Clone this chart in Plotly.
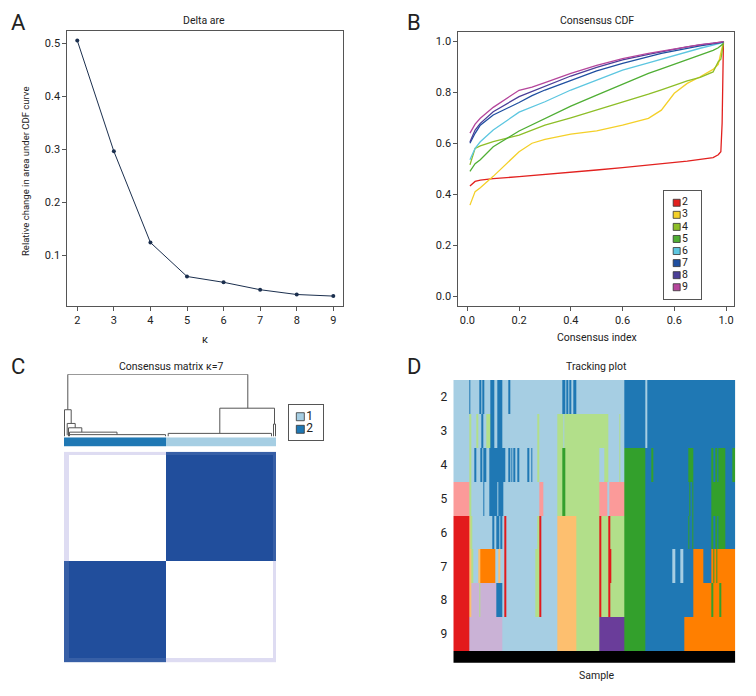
import numpy as np
import plotly.graph_objects as go

# page body has an 8px margin: size the figure to fit inside and shift coordinates
OFF = 8
FW, FH = 740, 680
def px(x): return (x - OFF) / FW
def py(y): return 1 - (y - OFF) / FH

FONT = "Roboto, Liberation Sans Narrow, sans-serif"
TXT = "#222222"
FRAME = "#555555"

# ---------------- Panel A : delta area ----------------
k_values = [2, 3, 4, 5, 6, 7, 8, 9]
delta_area = [0.505, 0.296, 0.124, 0.060, 0.049, 0.035, 0.026, 0.023]

# ---------------- Panel B : consensus CDF ----------------
cdf_x = [0.01, 0.03, 0.05, 0.1, 0.2, 0.25, 0.3, 0.4, 0.5, 0.6, 0.7, 0.75,
         0.8, 0.85, 0.9, 0.95, 0.97, 0.98, 0.985, 0.99]
cdf_k2 = [0.432, 0.450, 0.455, 0.461, 0.469, 0.473, 0.477, 0.486, 0.495, 0.504, 0.514, 0.519,
          0.524, 0.530, 0.537, 0.544, 0.555, 0.567, 0.680, 1.000]
cdf_k3 = [0.357, 0.410, 0.425, 0.470, 0.567, 0.600, 0.615, 0.636, 0.649, 0.671, 0.698, 0.730,
          0.796, 0.835, 0.861, 0.890, 0.910, 0.950, 0.970, 1.000]
cdf_k4 = [0.515, 0.580, 0.590, 0.606, 0.632, 0.650, 0.671, 0.700, 0.730, 0.763, 0.793, 0.810,
          0.828, 0.845, 0.859, 0.880, 0.920, 0.930, 0.960, 1.000]
cdf_k5 = [0.490, 0.520, 0.535, 0.586, 0.648, 0.672, 0.698, 0.746, 0.789, 0.833, 0.874, 0.892,
          0.910, 0.928, 0.946, 0.965, 0.975, 0.982, 0.986, 0.992]
cdf_k6 = [0.535, 0.580, 0.606, 0.652, 0.722, 0.742, 0.763, 0.809, 0.848, 0.887, 0.916, 0.931,
          0.946, 0.960, 0.973, 0.985, 0.990, 0.992, 0.994, 0.996]
cdf_k7 = [0.600, 0.639, 0.671, 0.711, 0.760, 0.787, 0.809, 0.848, 0.884, 0.914, 0.942, 0.953,
          0.963, 0.973, 0.982, 0.990, 0.993, 0.995, 0.996, 0.997]
cdf_k8 = [0.605, 0.652, 0.678, 0.724, 0.783, 0.803, 0.825, 0.864, 0.898, 0.927, 0.949, 0.959,
          0.969, 0.978, 0.986, 0.992, 0.995, 0.996, 0.997, 0.998]
cdf_k9 = [0.640, 0.675, 0.698, 0.741, 0.808, 0.820, 0.838, 0.874, 0.906, 0.932, 0.953, 0.962,
          0.971, 0.979, 0.987, 0.993, 0.995, 0.997, 0.998, 0.999]
cdf_series = [cdf_k2, cdf_k3, cdf_k4, cdf_k5, cdf_k6, cdf_k7, cdf_k8, cdf_k9]
cdf_colors = ["#E2211F", "#F4D029", "#8DBE27", "#4FAE34", "#5CC6E0", "#1F4FA0", "#4B3F98", "#B5469C"]
cdf_xtick_vals = [0.0, 0.2, 0.4, 0.6, 0.8, 1.0]
cdf_xtick_text = ["0.0", "0.2", "0.4", "0.6", "0.6", "1.0"]

# ---------------- Panel C : consensus matrix k=7 ----------------
c_cluster_sizes = [102, 110]        # left cluster (label 2), right cluster (label 1)
c_cluster_labels = [2, 1]
c_weak_left = 5                     # weakly assigned samples at the left end
c_weak_right = 3                    # weakly assigned samples at the right end
c_strong_same, c_strong_diff = 1.0, 0.0
c_weak_same, c_weak_diff = 0.9, 0.14
# dendrogram links: (x_left, x_right, height, left_child_h, right_child_h)
dend_links = [
    (3.3, 183.3, 1.00, 0.43, 0.455),
    (0.0, 6.7, 0.43, 0.00, 0.21),
    (2.7, 10.7, 0.21, 0.02, 0.14),
    (4.0, 17.3, 0.14, 0.02, 0.07),
    (5.0, 52.5, 0.07, 0.00, 0.03),
    (4.0, 101.0, 0.03, 0.00, 0.00),
    (155.3, 210.0, 0.455, 0.05, 0.20),
    (103.7, 207.0, 0.05, 0.00, 0.00),
    (209.0, 211.0, 0.20, 0.00, 0.00),
]

# ---------------- Panel D : tracking plot ----------------
track_n = 282
track_k2 = [(16, 17.5, 2), (26.5, 28.5, 2), (29.5, 31.5, 2), (37.5, 41.5, 2), (44, 49.5, 2),
            (55.5, 57, 2), (109.5, 112, 2), (113, 115, 2), (116.5, 118.5, 2), (120, 123.5, 2),
            (171.5, 192.5, 2), (194, 282, 2)]
track_k3 = [(16, 18.5, 3), (23, 25, 3), (28, 30, 2), (33, 37, 3), (37.5, 41.5, 2), (44, 49.5, 2),
            (84.5, 86.5, 3), (104.5, 110, 3), (111.5, 155, 3), (166, 167.5, 3),
            (171.5, 192.5, 2), (194, 282, 2)]
track_k4 = [(16, 18.5, 3), (21.5, 23, 2), (27, 29, 2), (30, 33, 2), (36.5, 52, 2), (55.5, 57, 2),
            (58, 59.5, 2), (60.5, 62, 2), (64.5, 66, 2), (74.5, 76, 2), (78, 79.5, 2),
            (84.5, 86.5, 3), (104.5, 146.5, 3), (109.5, 112.5, 4), (151, 155, 3), (166, 167.5, 3),
            (171.5, 192.5, 4), (192.5, 282, 2), (198.5, 200, 4), (235, 240, 4),
            (258.5, 260, 4), (262, 264, 4), (265, 272, 4), (279, 282, 4)]
track_k5 = [(0, 16, 5), (16, 18.5, 3), (30, 31.5, 2), (36.5, 44, 2), (45, 50, 2), (86, 90, 5),
            (104.5, 146.5, 3), (109.5, 112.5, 4), (146.5, 154.4, 5), (155.7, 171.5, 5),
            (171.5, 192.5, 4), (192.5, 282, 2), (236, 237, 4), (239, 240, 4), (258.5, 272, 4)]
track_k6 = [(0, 16, 6), (16, 17.5, 7), (17.5, 19.5, 3), (39.5, 41.5, 2), (43.5, 46, 2),
            (47, 49.5, 2), (51.5, 53.5, 6), (84, 86.5, 3), (86.5, 88.5, 6), (104.5, 123, 7),
            (123, 146.3, 3), (146.3, 147.7, 6), (147.7, 155, 3), (155, 157, 6), (157, 171.5, 3),
            (171.5, 192.5, 4), (192.5, 282, 2), (235, 236, 4), (239, 240, 4), (258.5, 260, 4),
            (262, 264, 4), (265, 272, 4)]
track_k7 = [(0, 16, 6), (16, 18, 7), (18, 20, 3), (25.5, 27.5, 7), (27.5, 42, 8), (45.5, 47.5, 7),
            (51.5, 53.5, 6), (82.5, 86.5, 3), (86.5, 88.5, 6), (104.5, 123, 7), (123, 146.3, 3),
            (146.3, 147.7, 6), (147.7, 155, 3), (155, 158.5, 6), (158.5, 171.5, 3),
            (171.5, 192.5, 4), (192.5, 240, 2), (218.7, 222, 1), (226.7, 230, 1),
            (240, 250, 8), (250, 258.5, 2), (258.5, 282, 8), (260, 261, 4), (263, 264, 4)]
track_k8 = [(0, 16, 6), (16, 18, 7), (18, 42.7, 9), (26, 27.3, 3), (42.7, 49.5, 2),
            (51.5, 53.5, 6), (82.5, 86.5, 3), (86.5, 88.5, 6), (104.5, 123, 7), (123, 146.3, 3),
            (146.3, 147.7, 6), (147.7, 155, 3), (155, 157, 6), (157, 171.5, 3),
            (171.5, 192.5, 4), (192.5, 240, 2), (240, 282, 8), (258.5, 260, 4), (266.5, 268, 4)]
track_k9 = [(0, 16, 6), (16, 49.5, 9), (104.5, 123, 7), (123, 146.5, 3), (146.5, 171.5, 10),
            (171.5, 192.5, 4), (192.5, 230.7, 2), (230.7, 282, 8)]
track_rows = [track_k2, track_k3, track_k4, track_k5, track_k6, track_k7, track_k8, track_k9]
track_base_cluster = 1
track_sample_label = 0
cluster_palette = ["#000000", "#A6CEE3", "#1F78B4", "#B2DF8A", "#33A02C", "#FB9A99",
                   "#E31A1C", "#FDBF6F", "#FF7F00", "#CAB2D6", "#6A3D9A"]

fig = go.Figure()

# ===== Panel A =====
fig.add_trace(go.Scatter(x=k_values, y=delta_area, mode="lines+markers",
                         line=dict(color="#1B2F4E", width=1),
                         marker=dict(color="#1B2F4E", size=4),
                         xaxis="x", yaxis="y", showlegend=False))

# ===== Panel B =====
for k, ys, col in zip(k_values, cdf_series, cdf_colors):
    fig.add_trace(go.Scatter(x=cdf_x, y=ys, mode="lines", line=dict(color=col, width=1.3),
                             xaxis="x2", yaxis="y2", showlegend=False))
# custom legend for B
fig.add_trace(go.Scatter(x=[0.34] * len(k_values), y=k_values, mode="markers+text",
                         text=[str(k) for k in k_values], textposition="middle right",
                         textfont=dict(family=FONT, size=10.5, color=TXT),
                         marker=dict(symbol="square", size=7, color=cdf_colors,
                                     line=dict(color="#333333", width=0.8)),
                         xaxis="x3", yaxis="y3", showlegend=False, cliponaxis=False))

# ===== Panel C =====
labels = np.concatenate([np.full(s, l) for s, l in zip(c_cluster_sizes, c_cluster_labels)])
n_c = len(labels)
weak = np.zeros(n_c, dtype=bool)
weak[:c_weak_left] = True
weak[n_c - c_weak_right:] = True
same = labels[:, None] == labels[None, :]
anyweak = weak[:, None] | weak[None, :]
zc = np.where(same, c_strong_same, c_strong_diff)
zc = np.where(anyweak & same, c_weak_same, zc)
zc = np.where(anyweak & ~same, c_weak_diff, zc)
fig.add_trace(go.Heatmap(z=zc, x=np.arange(n_c), y=np.arange(n_c),
                         colorscale=[[0, "#FFFFFF"], [0.14, "#DEDCF2"], [1, "#214E9C"]],
                         zmin=0, zmax=1,
                         showscale=False, xaxis="x6", yaxis="y6", hoverinfo="skip"))
fig.add_trace(go.Heatmap(z=[labels], x=np.arange(n_c), y=[0],
                         colorscale=[[0, "#A6CEE3"], [0.5, "#A6CEE3"], [0.5, "#1F78B4"], [1, "#1F78B4"]],
                         zmin=1, zmax=2, showscale=False, xaxis="x5", yaxis="y5", hoverinfo="skip"))
dx, dy = [], []
for xl, xr, h, hl, hr in dend_links:
    dx += [xl, xl, xr, xr, None]
    dy += [hl, h, h, hr, None]
fig.add_trace(go.Scatter(x=dx, y=dy, mode="lines", line=dict(color="#555555", width=1),
                         xaxis="x4", yaxis="y4", showlegend=False, cliponaxis=False))
c_leg_labels = [1, 2]
fig.add_trace(go.Scatter(x=[0.33, 0.33], y=c_leg_labels, mode="markers+text",
                         text=[str(v) for v in c_leg_labels], textposition="middle right",
                         textfont=dict(family=FONT, size=12, color=TXT),
                         marker=dict(symbol="square", size=8,
                                     color=[cluster_palette[v] for v in c_leg_labels],
                                     line=dict(color="#333333", width=0.8)),
                         xaxis="x7", yaxis="y7", showlegend=False, cliponaxis=False))

# ===== Panel D =====
zt = np.full((len(track_rows) + 1, track_n), track_base_cluster)
centers = np.arange(track_n) + 0.5
for r, segs in enumerate(track_rows):
    for a, b, cl in segs:
        zt[r, (centers >= a) & (centers < b)] = cl
zt[-1, :] = track_sample_label
ncol = len(cluster_palette)
cs = []
for i, c in enumerate(cluster_palette):
    cs.append([i / ncol, c])
    cs.append([(i + 1) / ncol, c])
y_edges = [k - 0.5 for k in k_values] + [k_values[-1] + 0.5, k_values[-1] + 0.845]
fig.add_trace(go.Heatmap(z=zt, x=np.arange(track_n + 1), y=y_edges, colorscale=cs,
                         zmin=-0.5, zmax=ncol - 0.5, showscale=False,
                         xaxis="x8", yaxis="y8", hoverinfo="skip"))

tickfont = dict(family=FONT, size=11, color=TXT)
frame = dict(showline=True, mirror=True, linecolor=FRAME, linewidth=1, ticks="outside",
             ticklen=4, tickcolor=FRAME, showgrid=False, zeroline=False, tickfont=tickfont)
hidden = dict(visible=False, showgrid=False, zeroline=False)
legbox = dict(showline=True, mirror=True, linecolor=FRAME, showticklabels=False, ticks="",
              showgrid=False, zeroline=False)

fig.update_layout(
    width=FW, height=FH, margin=dict(l=0, r=0, t=0, b=0),
    paper_bgcolor="white", plot_bgcolor="white",
    font=dict(family=FONT, color=TXT),
    xaxis=dict(domain=[px(67.3), px(342.7)], range=[1.727, 9.257], tickvals=k_values,
               anchor="y", **frame),
    yaxis=dict(domain=[py(306), py(31)], range=[0.0043, 0.523], tickvals=[0.1, 0.2, 0.3, 0.4, 0.5],
               tickformat=".1f", anchor="x", **frame),
    xaxis2=dict(domain=[px(458.3), px(734.3)], range=[-0.035, 1.032], tickvals=cdf_xtick_vals,
                ticktext=cdf_xtick_text, anchor="y2", **frame),
    yaxis2=dict(domain=[py(306), py(31.7)], range=[-0.039, 1.038],
                tickvals=[0, 0.2, 0.4, 0.6, 0.8, 1.0], tickformat=".1f", anchor="x2", **frame),
    xaxis3=dict(domain=[px(664.3), px(700.7)], range=[0, 1], anchor="y3", **legbox),
    yaxis3=dict(domain=[py(299.3), py(190.7)], range=[10, 1], anchor="x3", **legbox),
    xaxis4=dict(domain=[px(64), px(276)], range=[-0.5, n_c - 0.5], anchor="y4", **hidden),
    yaxis4=dict(domain=[py(436.5), py(374.3)], range=[0, 1], anchor="x4", **hidden),
    xaxis5=dict(domain=[px(64), px(276)], range=[-0.5, n_c - 0.5], anchor="y5", **hidden),
    yaxis5=dict(domain=[py(446.7), py(437.3)], range=[-0.5, 0.5], anchor="x5", **hidden),
    xaxis6=dict(domain=[px(64), px(276)], range=[-0.5, n_c - 0.5], anchor="y6", **hidden),
    yaxis6=dict(domain=[py(662.3), py(451.7)], range=[-0.5, n_c - 0.5], anchor="x6", **hidden),
    xaxis7=dict(domain=[px(289), px(323.3)], range=[0, 1], anchor="y7", **legbox),
    yaxis7=dict(domain=[py(440), py(405)], range=[2.85, 0.07], anchor="x7", **legbox),
    xaxis8=dict(domain=[px(453.3), px(735.3)], range=[0, track_n], anchor="y8", **hidden),
    yaxis8=dict(domain=[py(662.7), py(380)], range=[y_edges[-1], y_edges[0]], anchor="x8",
                tickvals=k_values, ticks="", showline=False, showgrid=False, zeroline=False,
                ticklabelstandoff=5, tickfont=dict(family=FONT, size=12, color=TXT)),
)

ann = []
def label(text, x, y, size, yanchor="middle", **kw):
    ann.append(dict(text=text, x=px(x), y=py(y), xref="paper", yref="paper", showarrow=False,
                    font=dict(family=FONT, size=size, color=TXT), xanchor="center",
                    yanchor=yanchor, **kw))

label("A", 18, 8, 22, yanchor="top")
label("B", 414, 8, 22, yanchor="top")
label("C", 18, 366, 22)
label("D", 414, 366, 22)
label("Delta are", 204, 20, 10.5)
label("Consensus CDF", 596.7, 20, 10.5)
label("κ", 205, 339, 11)
label("Consensus index", 596.7, 337.5, 10.5)
label("Relative change in area under CDF curve", 25, 172, 9.5, textangle=-90)
label("Consensus matrix κ=7", 171, 366, 10.5)
label("Tracking plot", 596.7, 366, 10.5)
label("Sample", 596.7, 675, 10.5)
fig.update_layout(annotations=ann)

fig.write_html("out.html")
